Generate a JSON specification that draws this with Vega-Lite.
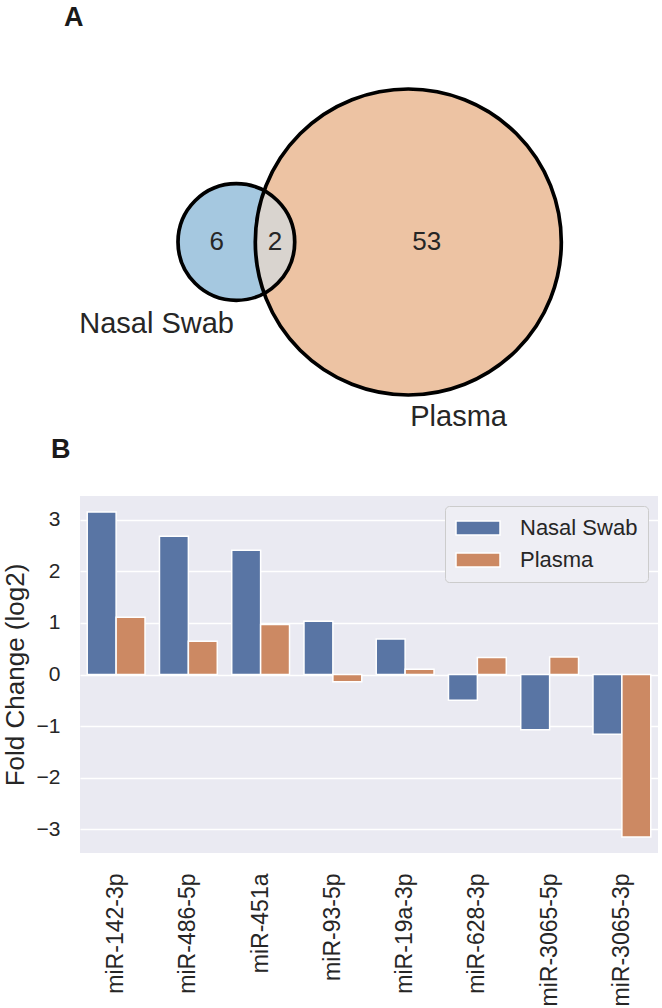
{
  "$schema": "https://vega.github.io/schema/vega-lite/v6.json",
  "padding": {"left": 2, "top": 4, "right": 0, "bottom": 0},
  "background": "white",
  "spacing": -8,
  "config": {"font": "Liberation Sans", "view": {"stroke": null}},
  "resolve": {"scale": {"x": "independent", "y": "independent", "color": "independent", "fill": "independent", "size": "independent"}},
  "datasets": {
    "sets": [
      {"set": "Plasma", "total": 55, "x": 0.136, "y": 0},
      {"set": "Nasal Swab", "total": 8, "x": -0.459, "y": 0}
    ],
    "counts": [
      {"count": "6", "x": -0.527, "y": 0},
      {"count": "2", "x": -0.325, "y": 0},
      {"count": "53", "x": 0.2, "y": 0}
    ],
    "setlabels": [
      {"name": "Nasal Swab", "x": -0.735, "y": -0.315},
      {"name": "Plasma", "x": 0.31, "y": -0.6376}
    ],
    "bars": [
      {"mirna": "miR-142-3p", "group": "Nasal Swab", "fc": 3.15},
      {"mirna": "miR-142-3p", "group": "Plasma", "fc": 1.11},
      {"mirna": "miR-486-5p", "group": "Nasal Swab", "fc": 2.68},
      {"mirna": "miR-486-5p", "group": "Plasma", "fc": 0.645},
      {"mirna": "miR-451a", "group": "Nasal Swab", "fc": 2.41},
      {"mirna": "miR-451a", "group": "Plasma", "fc": 0.97},
      {"mirna": "miR-93-5p", "group": "Nasal Swab", "fc": 1.03},
      {"mirna": "miR-93-5p", "group": "Plasma", "fc": -0.14},
      {"mirna": "miR-19a-3p", "group": "Nasal Swab", "fc": 0.69},
      {"mirna": "miR-19a-3p", "group": "Plasma", "fc": 0.1},
      {"mirna": "miR-628-3p", "group": "Nasal Swab", "fc": -0.5},
      {"mirna": "miR-628-3p", "group": "Plasma", "fc": 0.33},
      {"mirna": "miR-3065-5p", "group": "Nasal Swab", "fc": -1.07},
      {"mirna": "miR-3065-5p", "group": "Plasma", "fc": 0.34},
      {"mirna": "miR-3065-3p", "group": "Nasal Swab", "fc": -1.16},
      {"mirna": "miR-3065-3p", "group": "Plasma", "fc": -3.15}
    ]
  },
  "vconcat": [
    {
      "title": {"text": "A", "anchor": "start", "frame": "group", "dx": -16, "offset": 8, "fontSize": 27, "fontWeight": "bold", "color": "#1a1a1a"},
      "width": 578,
      "height": 404,
      "layer": [
        {
          "data": {"name": "sets"},
          "mark": {"type": "point", "shape": "circle", "filled": true, "opacity": 1, "strokeWidth": 0},
          "encoding": {
            "x": {"field": "x", "type": "quantitative", "scale": {"domain": [-1, 1]}, "axis": null},
            "y": {"field": "y", "type": "quantitative", "scale": {"domain": [-0.7, 0.7]}, "axis": null},
            "size": {"field": "total", "type": "quantitative", "scale": {"domain": [0, 55], "range": [0, 93636]}, "legend": null},
            "fill": {"field": "set", "type": "nominal", "scale": {"domain": ["Nasal Swab", "Plasma"], "range": ["#A5C8E0", "#EDC3A3"]}, "legend": null}
          }
        },
        {
          "data": {"name": "sets"},
          "transform": [{"filter": "datum.set === 'Nasal Swab'"}],
          "mark": {"type": "point", "shape": "M0.4767,-0.8791A1,1,0,0,1,0.4767,0.8791A2.6217,2.6217,0,0,1,0.4767,-0.8791Z", "filled": true, "opacity": 1, "fill": "#D9D4CF", "strokeWidth": 0},
          "encoding": {
            "x": {"field": "x", "type": "quantitative"},
            "y": {"field": "y", "type": "quantitative"},
            "size": {"field": "total", "type": "quantitative", "legend": null}
          }
        },
        {
          "data": {"name": "sets"},
          "mark": {"type": "point", "shape": "circle", "filled": false, "opacity": 1, "stroke": "black", "strokeWidth": 3.7},
          "encoding": {
            "x": {"field": "x", "type": "quantitative"},
            "y": {"field": "y", "type": "quantitative"},
            "size": {"field": "total", "type": "quantitative", "legend": null}
          }
        },
        {
          "data": {"name": "counts"},
          "mark": {"type": "text", "fontSize": 26, "color": "#262626", "align": "center", "baseline": "middle"},
          "encoding": {
            "x": {"field": "x", "type": "quantitative"},
            "y": {"field": "y", "type": "quantitative"},
            "text": {"field": "count"}
          }
        },
        {
          "data": {"name": "setlabels"},
          "mark": {"type": "text", "fontSize": 29, "color": "#262626", "align": "center", "baseline": "alphabetic"},
          "encoding": {
            "x": {"field": "x", "type": "quantitative"},
            "y": {"field": "y", "type": "quantitative"},
            "text": {"field": "name"}
          }
        }
      ]
    },
    {
      "title": {"text": "B", "anchor": "start", "frame": "group", "dx": -29, "offset": 32, "fontSize": 27, "fontWeight": "bold", "color": "#1a1a1a"},
      "width": 578,
      "height": 357,
      "view": {"fill": "#EAEAF2", "stroke": null},
      "data": {"name": "bars"},
      "mark": {"type": "bar", "stroke": "white", "strokeWidth": 1.5},
      "encoding": {
        "x": {
          "field": "mirna", "type": "nominal",
          "sort": ["miR-142-3p", "miR-486-5p", "miR-451a", "miR-93-5p", "miR-19a-3p", "miR-628-3p", "miR-3065-5p", "miR-3065-3p"],
          "scale": {"paddingInner": 0.2, "paddingOuter": 0.1},
          "axis": {"title": null, "labelAngle": -90, "labelFontSize": 23, "labelColor": "#262626", "labelPadding": 20, "ticks": false, "domain": false, "grid": false, "labelLimit": 300}
        },
        "xOffset": {"field": "group", "type": "nominal", "sort": ["Nasal Swab", "Plasma"], "scale": {"paddingInner": 0, "paddingOuter": 0}},
        "y": {
          "field": "fc", "type": "quantitative",
          "scale": {"domain": [-3.46, 3.46], "nice": false},
          "axis": {"title": "Fold Change (log2)", "values": [-3, -2, -1, 0, 1, 2, 3], "labelFontSize": 21, "labelColor": "#262626", "labelPadding": 20, "ticks": false, "domain": false, "grid": true, "gridColor": "white", "gridWidth": 1.6, "gridOpacity": 1, "titleFontSize": 26, "titleFontWeight": "normal", "titleColor": "#262626", "titlePadding": 8}
        },
        "color": {
          "field": "group", "type": "nominal",
          "scale": {"domain": ["Nasal Swab", "Plasma"], "range": ["#5975A4", "#CC8963"]},
          "legend": {"title": null, "orient": "top-right", "offset": 10, "padding": 10, "fillColor": "#EEEEF4", "strokeColor": "#CCCCCC", "cornerRadius": 4, "labelFontSize": 22, "labelColor": "#262626", "labelOffset": 19, "symbolType": "M-1,-0.32L1,-0.32L1,0.32L-1,0.32Z", "symbolSize": 1936, "symbolStrokeColor": "white", "symbolStrokeWidth": 1.5, "symbolOpacity": 1, "clipHeight": 24, "rowPadding": 8}
        }
      }
    }
  ]
}
